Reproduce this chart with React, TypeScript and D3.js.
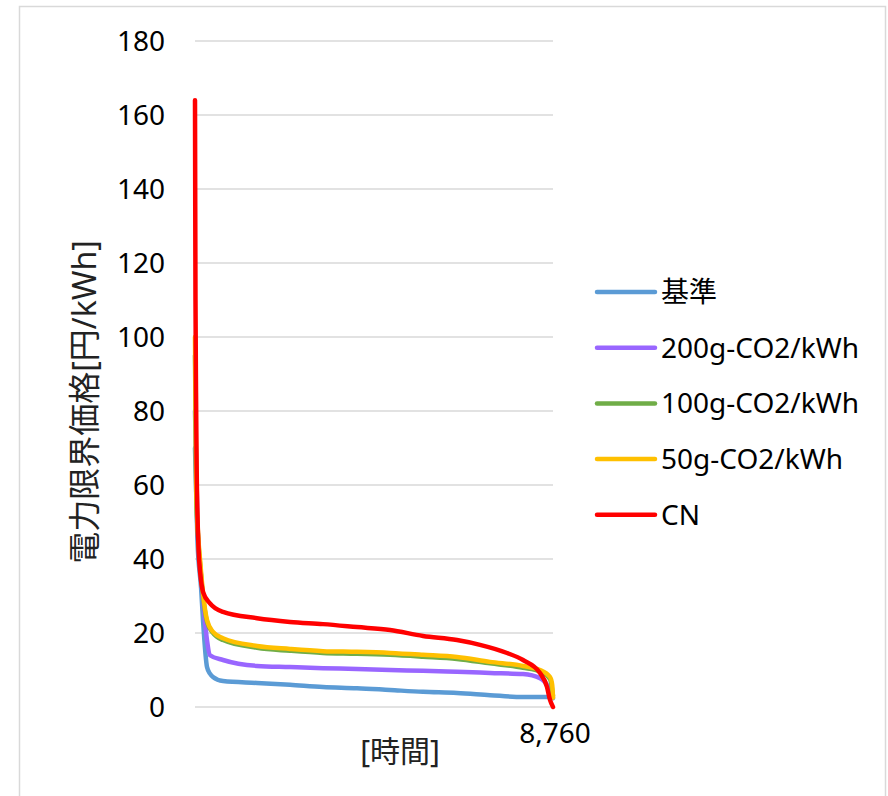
import React, { useEffect, useRef } from "react";
import * as d3 from "d3";

// hours of the year (sorted duration curve) and marginal price [円/kWh]
const baseHours = [0, 60, 150, 196, 294, 367, 440, 685, 1517, 2325, 3132, 3964, 4772, 5579, 6411, 7219, 8026, 8687, 8760];
const baseValues = [70, 45, 32, 23.5, 10.8, 9, 8.1, 7, 6.5, 6, 5.4, 5.1, 4.6, 4.1, 3.8, 3.2, 2.7, 2.7, 2.4];

const g200Hours = [0, 60, 150, 220, 294, 367, 685, 1517, 2325, 3132, 3964, 4772, 5579, 6411, 7219, 8026, 8442, 8638, 8730];
const g200Values = [80, 50, 35, 26, 18, 14, 12.7, 11.1, 10.8, 10.5, 10.3, 10, 9.8, 9.5, 9.2, 8.9, 7.8, 5.4, 2.7];

const g100Hours = [0, 30, 80, 122, 196, 294, 440, 685, 1517, 2325, 3132, 3964, 4772, 5579, 6411, 7219, 8026, 8442, 8687, 8760];
const g100Values = [95, 58, 45, 39, 30, 23, 20, 18.1, 16, 15.2, 14.6, 14.4, 14.1, 13.6, 13, 11.8, 10.6, 9.6, 7.6, 3];

const g50Hours = [0, 30, 80, 122, 196, 294, 440, 685, 1517, 2325, 3132, 3964, 4772, 5579, 6411, 7219, 8026, 8442, 8687, 8740, 8760];
const g50Values = [100, 60, 46, 40, 30.8, 23.5, 20.3, 18.6, 16.5, 15.7, 15.1, 14.9, 14.6, 14.1, 13.5, 12.2, 11.1, 10, 8.1, 6, 2.5];

const cnHours = [0, 5, 12, 25, 40, 60, 90, 130, 200, 367, 685, 1517, 2325, 3132, 3964, 4772, 5579, 6411, 6974, 7635, 8026, 8442, 8613, 8687, 8760];
const cnValues = [164, 140, 110, 85, 65, 52, 42, 36, 31, 28, 25.7, 24, 23, 22.4, 21.6, 20.8, 19.2, 18.1, 16.8, 14.6, 12.7, 9.2, 5.4, 1.9, 0];

const seriesNames = ["基準", "200g-CO2/kWh", "100g-CO2/kWh", "50g-CO2/kWh", "CN"];
const seriesColors = ["#5b9bd5", "#9966ff", "#70ad47", "#ffc000", "#ff0000"];
const yTicks = [0, 20, 40, 60, 80, 100, 120, 140, 160, 180];
const xTickLabel = "8,760";

const FONT = "'Noto Sans', 'Noto Sans CJK JP', sans-serif";

const App = () => {
  const ref = useRef<SVGSVGElement | null>(null);

  useEffect(() => {
    const svg = d3.select(ref.current);
    svg.selectAll("*").remove();

    const x = d3.scaleLinear().domain([0, 8760]).range([195, 553]);
    const y = d3.scaleLinear().domain([0, 180]).range([707, 41]);

    // outer border
    svg
      .append("rect")
      .attr("x", 19.5)
      .attr("y", 6.5)
      .attr("width", 866)
      .attr("height", 810)
      .attr("fill", "white")
      .attr("stroke", "#d9d9d9")
      .attr("stroke-width", 1.5);

    // grid
    svg
      .append("g")
      .selectAll("line")
      .data(yTicks)
      .enter()
      .append("line")
      .attr("x1", 195)
      .attr("x2", 553)
      .attr("y1", (d) => y(d))
      .attr("y2", (d) => y(d))
      .attr("stroke", "#d9d9d9")
      .attr("stroke-width", 1.5);

    svg
      .append("g")
      .selectAll("text")
      .data(yTicks)
      .enter()
      .append("text")
      .attr("x", 165)
      .attr("y", (d) => y(d))
      .attr("dy", "0.35em")
      .attr("text-anchor", "end")
      .attr("font-family", FONT)
      .attr("font-size", 28)
      .attr("fill", "#000")
      .text((d) => d);

    svg
      .append("text")
      .attr("x", 555)
      .attr("y", 743)
      .attr("text-anchor", "middle")
      .attr("font-family", FONT)
      .attr("font-size", 28)
      .text(xTickLabel);

    svg
      .append("text")
      .attr("x", 400)
      .attr("y", 762)
      .attr("text-anchor", "middle")
      .attr("font-family", FONT)
      .attr("font-size", 30)
      .attr("fill", "#222")
      .text("[時間]");

    svg
      .append("text")
      .attr("transform", "translate(96, 402) rotate(-90)")
      .attr("text-anchor", "middle")
      .attr("font-family", FONT)
      .attr("font-size", 32)
      .attr("fill", "#222")
      .text("電力限界価格[円/kWh]");

    const hoursList = [baseHours, g200Hours, g100Hours, g50Hours, cnHours];
    const valuesList = [baseValues, g200Values, g100Values, g50Values, cnValues];

    const line = d3
      .line<[number, number]>()
      .x((d) => x(d[0]))
      .y((d) => y(d[1]))
      .curve(d3.curveMonotoneX);

    hoursList.forEach((hs, i) => {
      const pts = hs.map((h, j) => [h, valuesList[i][j]] as [number, number]);
      svg
        .append("path")
        .attr("d", line(pts))
        .attr("fill", "none")
        .attr("stroke", seriesColors[i])
        .attr("stroke-width", 4.5)
        .attr("stroke-linejoin", "round")
        .attr("stroke-linecap", "round");
    });

    // legend
    const legend = svg.append("g");
    seriesNames.forEach((name, i) => {
      const ly = 292 + i * 55.7;
      legend
        .append("line")
        .attr("x1", 597)
        .attr("x2", 655)
        .attr("y1", ly)
        .attr("y2", ly)
        .attr("stroke", seriesColors[i])
        .attr("stroke-width", 4.5)
        .attr("stroke-linecap", "round");
      legend
        .append("text")
        .attr("x", 661)
        .attr("y", ly)
        .attr("dy", "0.35em")
        .attr("font-family", FONT)
        .attr("font-size", 28)
        .attr("fill", "#000")
        .text(name);
    });
  }, []);

  return (
    <svg
      ref={ref}
      width={888}
      height={796}
      style={{ position: "absolute", left: 0, top: 0, background: "white" }}
    />
  );
};

export default App;
